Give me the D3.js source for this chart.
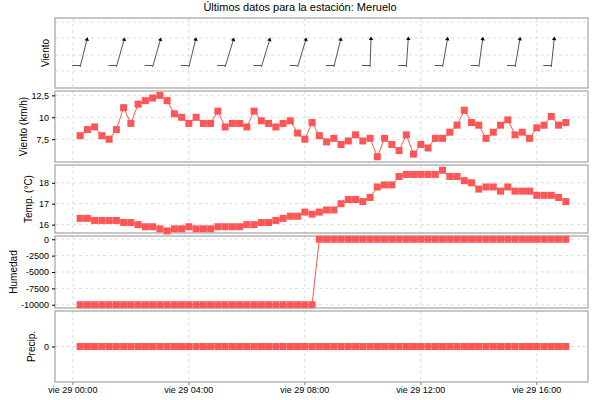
<!DOCTYPE html><html><head><meta charset="utf-8"><script src="https://cdn.jsdelivr.net/npm/d3@7"></script>
<style>body{margin:0;background:#fff}text{font-family:"Liberation Sans",Arial,sans-serif}</style></head><body><svg id="c" width="600" height="400"></svg><script>
const title="Últimos datos para la estación: Meruelo";
const startTime=new Date(2000,0,29,0,15);
const stepMinutes=15;
const windSpeed=[7.9,8.6,8.9,7.9,7.5,8.6,11.1,9.3,11.5,11.9,12.2,12.5,11.9,10.4,10.0,9.3,10.0,9.3,9.3,10.7,8.9,9.3,9.3,8.9,10.7,9.6,9.3,8.9,9.3,9.6,8.2,7.5,
9.4,7.9,7.2,7.6,6.9,7.3,8.0,7.3,7.6,5.5,7.6,6.9,6.2,8.0,5.8,6.9,6.5,7.6,7.6,8.3,9.1,10.8,9.4,9.1,7.6,8.3,9.1,9.7,8.0,8.3,7.6,8.8,9.1,10.1,9.1,9.4];
const temp=[16.3,16.3,16.2,16.2,16.2,16.2,16.1,16.1,16.0,15.9,15.9,15.8,15.7,15.8,15.8,15.9,15.8,15.8,15.8,15.9,15.9,15.9,15.9,16.0,16.0,16.1,16.1,16.2,16.3,16.4,16.4,16.6,16.5,
16.6,16.7,16.7,17.0,17.2,17.2,17.1,17.3,17.8,17.9,17.9,18.3,18.4,18.4,18.4,18.4,18.4,18.6,18.3,18.3,18.1,18.0,17.7,17.8,17.8,17.6,17.8,17.6,17.6,17.6,17.4,17.4,17.4,17.3,17.1];
const humidity=temp.map((_,i)=>i<33?-10000:0);
const precip=temp.map(()=>0);
const windDirIdx=[0,5,10,15,20,25,30,35,40,45,50,55,60,65];
const windDir=[12,14,14,12,15,15,15,12,0,2,8,6,8,4];
const xTicks=[0,4,8,12,16];
const times=temp.map((_,i)=>new Date(+startTime+i*stepMinutes*60000));
const svg=d3.select("#c");
const L=55,R=588;
const x=d3.scaleTime().domain([new Date(2000,0,28,23,23),new Date(2000,0,29,17,46)]).range([L,R]);
svg.append("text").attr("x",300).attr("y",11).attr("text-anchor","middle").attr("font-size",11).text(title);
const red="#ff5555";
const panels=[
 {top:18,bot:88,label:"Viento",lx:49},
 {top:91,bot:162,label:"Viento (km/h)",lx:27,data:windSpeed,dom:[4.9,13],ticks:[7.5,10,12.5],fmt:d=>String(d).replace(".",",")},
 {top:165,bot:233,label:"Temp. (°C)",lx:32,data:temp,dom:[15.6,18.85],ticks:[16,17,18],fmt:d=>d},
 {top:236,bot:308,label:"Humedad",lx:17,data:humidity,dom:[-10500,500],ticks:[0,-2500,-5000,-7500,-10000],fmt:d=>d},
 {top:311,bot:382,label:"Precip.",lx:35,data:precip,dom:[-1,1],ticks:[0],fmt:d=>d}];
const xt=xTicks.map(h=>new Date(2000,0,29,h));
panels.forEach(p=>{
 const g=svg.append("g");
 const y=d3.scaleLinear().domain(p.dom||[0,1]).range([p.bot,p.top]);
 g.selectAll(".vx").data(xt).join("line").attr("x1",d=>x(d)).attr("x2",d=>x(d)).attr("y1",p.top).attr("y2",p.bot).attr("stroke","#ddd").attr("stroke-dasharray","3,3");
 g.selectAll(".hy").data(p.ticks?p.ticks:[22,38,55,71].map(v=>y.invert(v))).join("line").attr("x1",L).attr("x2",R).attr("y1",d=>y(d)).attr("y2",d=>y(d)).attr("stroke","#ddd").attr("stroke-dasharray","3,3");
 g.append("rect").attr("x",L).attr("y",p.top).attr("width",R-L).attr("height",p.bot-p.top).attr("fill","none").attr("stroke","#aaa").attr("stroke-width",1.3);
 if(p.ticks){
  const ax=d3.axisLeft(y).tickValues(p.ticks).tickFormat(p.fmt).tickSize(3);
  const a=g.append("g").attr("transform",`translate(${L},0)`).call(ax);
  a.select(".domain").remove();a.selectAll("text").attr("font-size",9).attr("font-family","Liberation Sans");
 }
 g.append("text").attr("transform",`translate(${p.lx},${(p.top+p.bot)/2}) rotate(-90)`).attr("text-anchor","middle").attr("font-size",10).text(p.label);
 if(p.data){
  g.append("path").datum(p.data).attr("fill","none").attr("stroke",red).attr("stroke-width",1).attr("d",d3.line().x((d,i)=>x(times[i])).y(d=>y(d)));
  g.selectAll(".pt").data(p.data).join("rect").attr("x",(d,i)=>x(times[i])-3.5).attr("y",d=>y(d)-3.5).attr("width",7).attr("height",7).attr("fill",red);
 }else{
  windDirIdx.forEach((idx,k)=>{
   const cx=x(times[idx]),a=windDir[k]*Math.PI/180,len=29;
   const bx=cx,by=67,tx=bx+len*Math.sin(a)+1,ty=by-len*Math.cos(a);
   g.append("line").attr("x1",bx).attr("y1",by).attr("x2",tx).attr("y2",ty).attr("stroke","#555");
   g.append("line").attr("x1",bx-8).attr("y1",by-1.5).attr("x2",bx).attr("y2",by-1.5).attr("stroke","#555");
   g.append("path").attr("d",`M${tx},${ty-1.5}L${tx-2.2},${ty+2}L${tx+2.2},${ty+2}Z`).attr("fill","#000").attr("transform",`rotate(${windDir[k]},${tx},${ty})`);
  });
 }
});
svg.selectAll(".xl").data(xt).join("text").attr("x",d=>x(d)).attr("y",393).attr("text-anchor","middle").attr("font-size",9).text(d=>"vie 29 "+d3.timeFormat("%H:%M")(d));
svg.selectAll(".xtk").data(xt).join("line").attr("x1",d=>x(d)).attr("x2",d=>x(d)).attr("y1",382).attr("y2",385).attr("stroke","#888");
</script></body></html>
